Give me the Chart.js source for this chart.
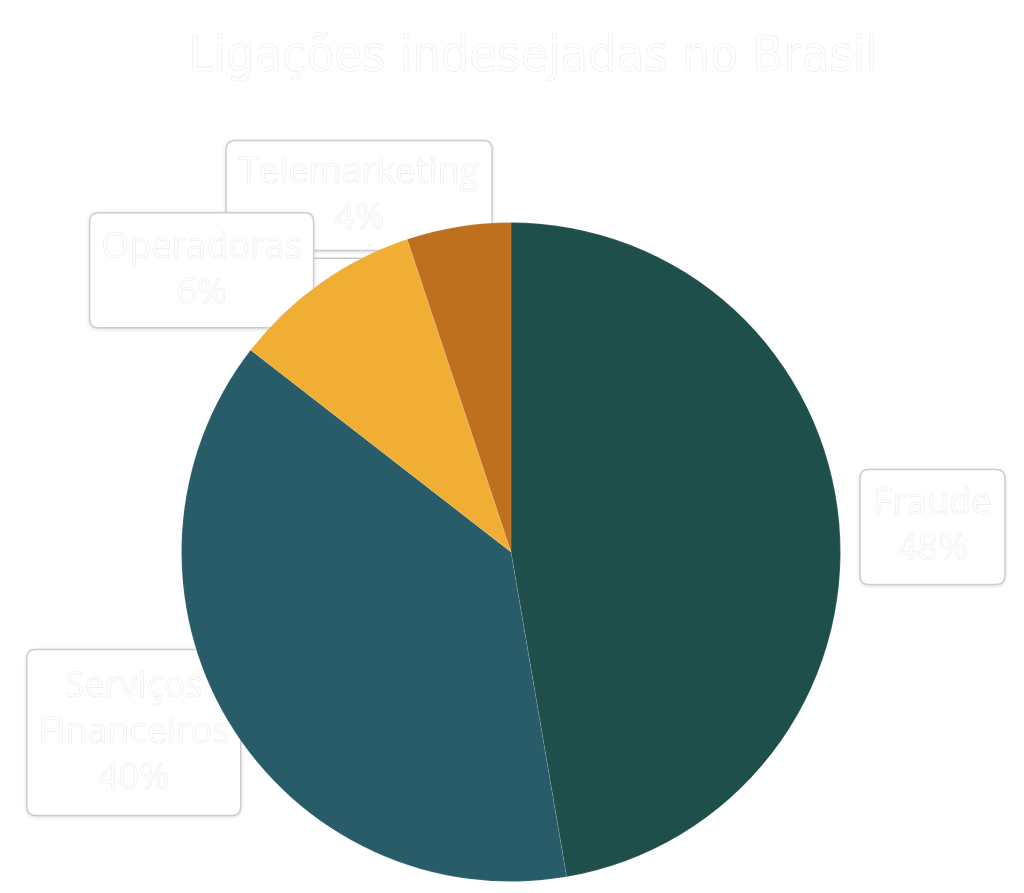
<!DOCTYPE html>
<html lang="pt-BR">
<head>
  <meta charset="UTF-8" />
  <title>Ligações indesejadas no Brasil</title>
  <style>
    html, body { margin: 0; padding: 0; background: #ffffff; }
    .wrap { width: 1024px; height: 893px; position: relative; }
  </style>
</head>
<body>
  <div class="wrap">
    <canvas id="myChart" width="1024" height="893"></canvas>
  </div>
  <script src="https://cdn.jsdelivr.net/npm/chart.js"></script>
  <script>
    // dados
    const titulo = 'Ligações indesejadas no Brasil';
    const categorias = ['Fraude', 'Serviços Financeiros', 'Operadoras', 'Telemarketing'];
    const valores = [47.3, 38.2, 9.4, 5.1];
    const rotulosPct = ['48%', '40%', '6%', '4%'];

    const cores = ['#1e4f4a', '#275c68', '#f0ae35', '#bf701f'];

    // caixas dos rótulos: centro em unidades do raio, tamanho em px
    const caixas = [
      { dx: 1.279, dy: -0.076, w: 145, h: 115, linhas: ['Fraude'] },
      { dx: -1.145, dy: 0.548, w: 214, h: 166, linhas: ['Serviços', 'Financeiros'] },
      { dx: -0.939, dy: -0.855, w: 224, h: 115, linhas: ['Operadoras'], guia: true },
      { dx: -0.461, dy: -1.082, w: 266, h: 110, linhas: ['Telemarketing'] }
    ];
    const ordemCaixas = [3, 2, 0, 1];

    function roundRect(ctx, x, y, w, h, r) {
      ctx.beginPath();
      ctx.moveTo(x + r, y);
      ctx.lineTo(x + w - r, y);
      ctx.quadraticCurveTo(x + w, y, x + w, y + r);
      ctx.lineTo(x + w, y + h - r);
      ctx.quadraticCurveTo(x + w, y + h, x + w - r, y + h);
      ctx.lineTo(x + r, y + h);
      ctx.quadraticCurveTo(x, y + h, x, y + h - r);
      ctx.lineTo(x, y + r);
      ctx.quadraticCurveTo(x, y, x + r, y);
      ctx.closePath();
    }

    function textoBranco(ctx, txt, x, y) {
      ctx.fillStyle = '#ffffff';
      ctx.fillText(txt, x, y);
      ctx.strokeStyle = 'rgba(0,0,0,0.09)';
      ctx.lineWidth = 0.6;
      ctx.strokeText(txt, x, y);
    }

    const rotulosPlugin = {
      id: 'rotulos',
      beforeDatasetsDraw(chart) {
        const ctx = chart.ctx;
        const arc = chart.getDatasetMeta(0).data[0];
        const cx = arc.x, cy = arc.y, r = arc.outerRadius;

        // título
        ctx.save();
        ctx.font = '300 50px "Liberation Sans Narrow", "DejaVu Sans Condensed", sans-serif';
        ctx.textAlign = 'center';
        ctx.textBaseline = 'middle';
        textoBranco(ctx, titulo, 533, 58);
        ctx.restore();

        ordemCaixas.forEach(i => {
          const c = caixas[i];
          const bx = cx + c.dx * r, by = cy + c.dy * r;
          const x = bx - c.w / 2, y = by - c.h / 2;
          ctx.save();
          if (c.guia) {
            const ang = Math.asin((by - 12 - cy) / r);
            const ex = cx - Math.cos(ang) * r;
            ctx.strokeStyle = '#c8c8c8';
            ctx.lineWidth = 1.5;
            ctx.beginPath();
            ctx.moveTo(x + c.w, by - 12);
            ctx.lineTo(ex, by - 12);
            ctx.stroke();
          }
          ctx.shadowColor = 'rgba(0,0,0,0.18)';
          ctx.shadowBlur = 4;
          ctx.shadowOffsetY = 1;
          roundRect(ctx, x, y, c.w, c.h, 9);
          ctx.fillStyle = '#ffffff';
          ctx.fill();
          ctx.shadowColor = 'transparent';
          ctx.strokeStyle = '#cdcdcd';
          ctx.lineWidth = 1.5;
          ctx.stroke();

          const linhas = c.linhas.concat([rotulosPct[i]]);
          const passo = 46;
          ctx.font = '36px "Open Sans", sans-serif';
          ctx.textAlign = 'center';
          ctx.textBaseline = 'middle';
          const y0 = by - (linhas.length - 1) * passo / 2;
          linhas.forEach((t, k) => textoBranco(ctx, t, bx, y0 + k * passo));
          ctx.restore();
        });
      }
    };

    const ctx = document.getElementById('myChart').getContext('2d');
    new Chart(ctx, {
      type: 'pie',
      data: {
        labels: categorias,
        datasets: [{
          data: valores,
          backgroundColor: cores,
          borderColor: 'rgba(255,255,255,0.12)',
          borderWidth: 1
        }]
      },
      options: {
        responsive: false,
        animation: false,
        layout: { padding: { top: 222, bottom: 11, left: 0, right: 2 } },
        plugins: {
          legend: { display: false },
          tooltip: { enabled: false },
          title: { display: false }
        }
      },
      plugins: [rotulosPlugin]
    });
  </script>
</body>
</html>
